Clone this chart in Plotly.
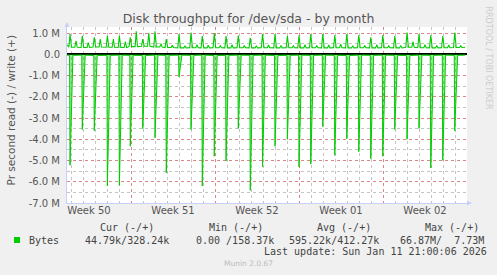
import plotly.graph_objects as go

# ---- data (values in millions of bytes per second) ----
week_labels = ["Week 50", "Week 51", "Week 52", "Week 01", "Week 02"]
week_centers = [3.5, 10.5, 17.5, 24.5, 31.5]   # day index, day 0 = Mon Dec 8
week_bounds = [7, 14, 21, 28]

spike_day = [1.92, 2.94, 3.94, 5.03, 6.03, 6.94, 7.98, 9.00, 9.94, 11.00, 12.00,
             12.94, 13.94, 14.92, 15.94, 16.94, 17.96, 19.00, 20.03, 21.00, 21.98,
             22.98, 23.98, 24.98, 25.98, 26.98, 27.98, 28.98, 30.00, 31.00, 31.98,
             32.98, 33.98]
read_peak = [-5.22, -3.54, -3.60, -6.20, -6.17, -4.33, -3.50, -3.92, -5.58, -1.06,
             -3.54, -6.20, -4.80, -5.02, -3.49, -6.40, -5.30, -4.33, -4.00, -5.30,
             -5.17, -3.41, -4.75, -3.98, -4.59, -4.92, -4.80, -3.54, -4.00, -3.49,
             -5.35, -4.99, -3.60]
read_base = [-0.05, -0.04, -0.06, -0.05, -0.04, -0.05, -0.06, -0.04, -0.05, -0.04,
             -0.05, -0.04, -0.06, -0.05, -0.04, -0.05, -0.04, -0.06, -0.05, -0.04,
             -0.05, -0.04, -0.05, -0.06, -0.04, -0.05, -0.04, -0.05, -0.06, -0.04,
             -0.05, -0.04, -0.05]
write_peak = [0.95, 0.87, 0.80, 0.87, 0.87, 0.80, 0.72, 1.08, 0.72, 0.95, 1.02,
              0.86, 1.00, 0.86, 0.88, 0.77, 0.95, 0.95, 0.86, 0.88, 0.95, 0.97,
              0.89, 0.95, 0.89, 0.80, 0.89, 0.86, 1.02, 0.95, 0.89, 0.86, 1.02]
write_mid = [0.63, 0.55, 0.72, 0.72, 0.60, 1.08, 1.00, 0.50, 0.42, 0.40, 0.45,
             0.43, 0.40, 0.45, 0.42, 0.40, 0.44, 0.42, 0.40, 0.45, 0.42, 0.44,
             0.48, 0.40, 0.42, 0.45, 0.40, 0.42, 0.60, 0.45, 0.42, 0.44, 0.40]
write_base = [0.33, 0.32, 0.34, 0.33, 0.32, 0.36, 0.38, 0.34, 0.32, 0.30, 0.31,
              0.30, 0.31, 0.30, 0.31, 0.30, 0.31, 0.30, 0.31, 0.30, 0.31, 0.30,
              0.31, 0.30, 0.31, 0.30, 0.31, 0.30, 0.33, 0.31, 0.30, 0.31, 0.32]
write_start, write_end = 0.45, 0.33
read_start, read_end = -0.04, -0.04
x_start, x_end = 1.67, 34.85

y_ticks = [-7, -6, -5, -4, -3, -2, -1, 0, 1]
y_ticktext = ["-7.0 M", "-6.0 M", "-5.0 M", "-4.0 M", "-3.0 M", "-2.0 M", "-1.0 M", "0.0", "1.0 M"]

# ---- build point series ----
wx, wy = [x_start], [write_start]
rx, ry = [x_start], [read_start]
for d, p, m, b, rp, rb in zip(spike_day, write_peak, write_mid, write_base, read_peak, read_base):
    wx += [d - 0.1, d, d + 0.12, d + 0.4, d + 0.5, d + 0.6]
    wy += [b, p, b, b, m, b]
    rx += [d - 0.04, d, d + 0.24]
    ry += [rb, rp, rb]
wx.append(x_end); wy.append(write_end)
rx.append(x_end); ry.append(read_end)

GREEN = "#00cc00"
fig = go.Figure()
fig.add_trace(go.Scatter(x=rx, y=ry, mode="lines", line=dict(color=GREEN, width=1),
                         fill="tozeroy", fillcolor="rgba(0,204,0,0.4)",
                         hoverinfo="skip", showlegend=False))
fig.add_trace(go.Scatter(x=wx, y=wy, mode="lines", line=dict(color=GREEN, width=1.1),
                         hoverinfo="skip", showlegend=False))
fig.add_trace(go.Scatter(x=[x_start], y=[0], xaxis="x2", mode="markers",
                         marker=dict(opacity=0), hoverinfo="skip", showlegend=False))

W, H = 497, 275
L, R, T, B = 67, 467, 27, 203
def px(x): return (x - L) / (R - L)
def py(y): return (B - y) / (B - T)

xr = [1.667, 35.0]
MAJ = "rgba(225,120,120,0.8)"
MIN = "rgba(190,190,190,0.9)"
AX = "#c8d0f8"
fig.update_layout(
    width=W, height=H,
    margin=dict(l=L, r=W - R, t=T, b=H - B),
    paper_bgcolor="#f0f0f0", plot_bgcolor="#ffffff",
    font=dict(family="DejaVu Sans", color="#555555"),
    title=dict(text="Disk throughput for /dev/sda - by month", x=0.5, xanchor="center",
               y=1 - 19 / H, yanchor="middle", font=dict(size=12.5, color="#555555")),
    xaxis=dict(range=xr, tickmode="array", tickvals=week_bounds, showticklabels=False,
               showgrid=True, gridcolor=MAJ, griddash="dot", gridwidth=1,
               zeroline=False, showline=True, linecolor=AX, linewidth=1, ticks="",
               minor=dict(tickmode="linear", tick0=0, dtick=1, showgrid=True,
                          gridcolor=MIN, griddash="dot", gridwidth=1)),
    xaxis2=dict(range=xr, overlaying="x", anchor="y", side="bottom",
                tickmode="array", tickvals=week_centers, ticktext=week_labels,
                showgrid=False, zeroline=False, showline=False, ticks="",
                tickfont=dict(size=10, color="#555555")),
    yaxis=dict(range=[-7.0, 1.285], tickmode="array", tickvals=y_ticks, ticktext=y_ticktext,
               showgrid=True, gridcolor=MAJ, griddash="dot", gridwidth=1,
               zeroline=True, zerolinecolor="#000000", zerolinewidth=1.5,
               showline=True, linecolor=AX, linewidth=1, ticks="",
               ticklabelstandoff=4, tickfont=dict(size=10, color="#555555"),
               minor=dict(tickmode="linear", tick0=0, dtick=0.5, showgrid=True,
                          gridcolor=MIN, griddash="dot", gridwidth=1)),
    showlegend=False,
)

ann = []
ann.append(dict(text="Pr second read (-) / write (+)", x=px(10.5), y=py(110), xref="paper", yref="paper",
                textangle=-90, showarrow=False, xanchor="center", yanchor="middle",
                font=dict(size=10.5, color="#555555")))
ann.append(dict(text="RRDTOOL / TOBI OETIKER", x=px(488), y=py(57.5), xref="paper", yref="paper",
                textangle=90, showarrow=False, xanchor="center", yanchor="middle",
                font=dict(size=8, color="#cccccc")))
mono = dict(family="DejaVu Sans Mono", size=10, color="#444444")
for txt, lx, ly in [("Cur (-/+)", 98.3, 227.3), ("Min (-/+)", 206.7, 227.3),
                    ("Avg (-/+)", 315, 227.3), ("Max (-/+)", 422.7, 227.3),
                    ("Bytes", 26.7, 240), ("44.79k/328.24k", 82.7, 240),
                    ("0.00 /158.37k", 194.3, 240), ("595.22k/412.27k", 287.3, 240),
                    ("66.87M/&nbsp;&nbsp;7.73M", 398.3, 240),
                    ("Last update: Sun Jan 11 21:00:06 2026", 261.7, 251.7)]:
    ann.append(dict(text=txt, x=px(lx), y=py(ly), xref="paper", yref="paper", showarrow=False,
                    xanchor="left", yanchor="middle", font=mono))
ann.append(dict(text="Munin 2.0.67", x=px(248), y=py(263.3), xref="paper", yref="paper",
                showarrow=False, xanchor="center", yanchor="middle",
                font=dict(size=7.5, color="#bbbbbb")))
# axis arrows
ann.append(dict(text="", x=px(472), y=py(B), xref="paper", yref="paper", showarrow=True,
                ax=-6, ay=0, arrowhead=2, arrowsize=1, arrowwidth=1, arrowcolor=AX))
ann.append(dict(text="", x=px(L), y=py(22), xref="paper", yref="paper", showarrow=True,
                ax=0, ay=6, arrowhead=2, arrowsize=1, arrowwidth=1, arrowcolor=AX))
fig.update_layout(annotations=ann)

fig.add_shape(type="rect", xref="paper", yref="paper", x0=px(14), x1=px(20), y0=py(243), y1=py(237),
              fillcolor=GREEN, line=dict(width=0))

fig.write_html("out.html", config=dict(displayModeBar=False))
